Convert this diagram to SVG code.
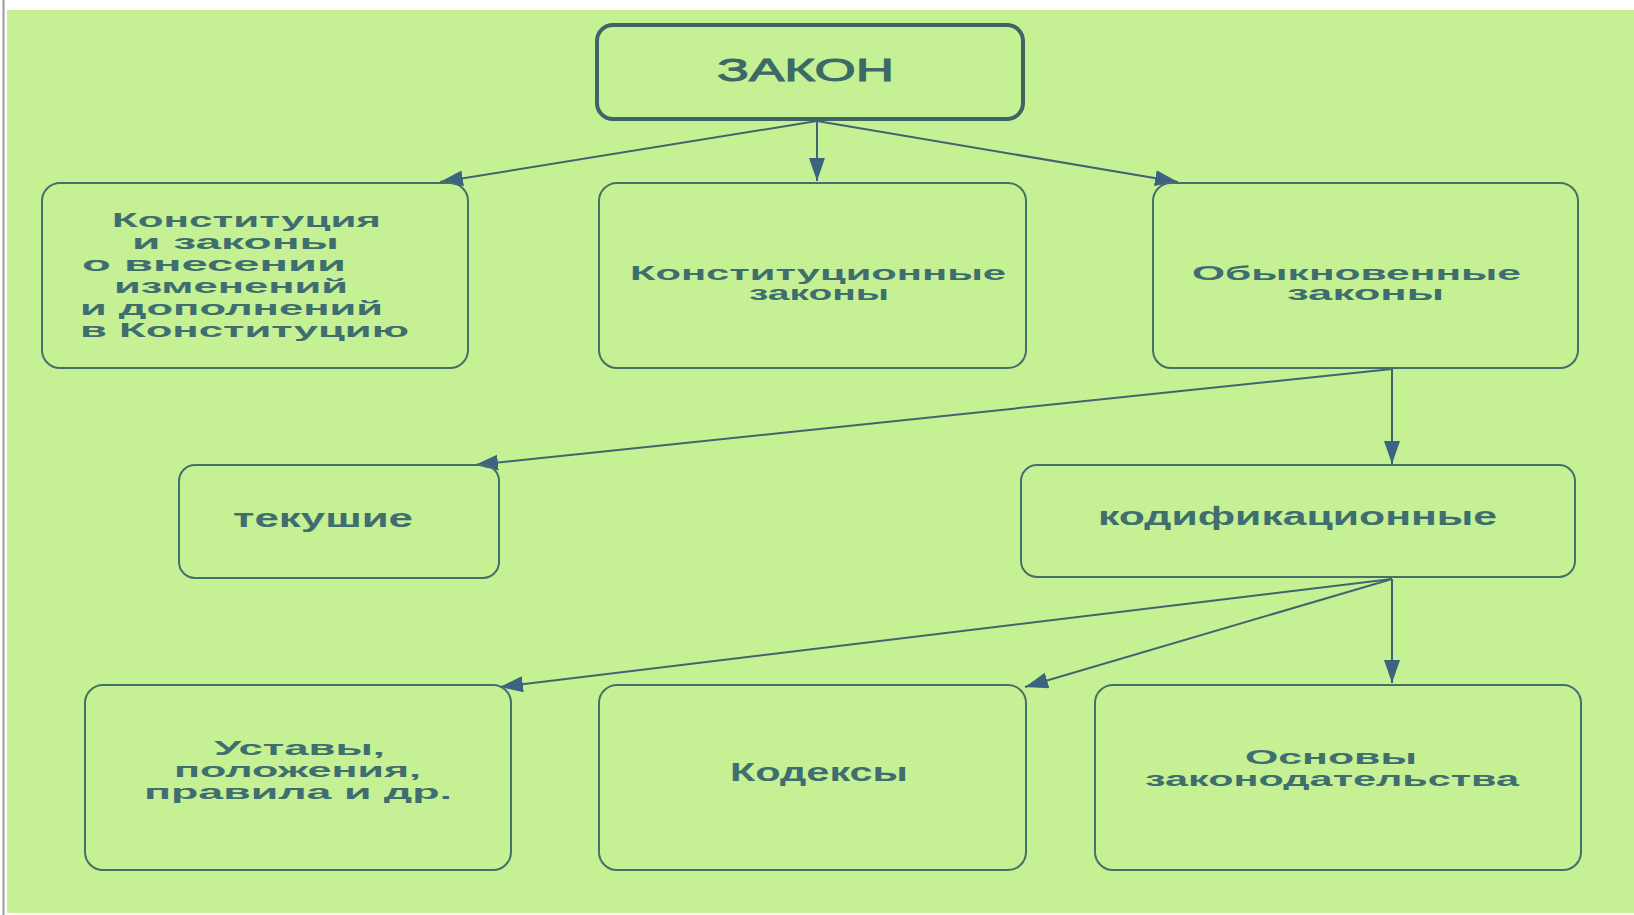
<svg xmlns="http://www.w3.org/2000/svg" width="1634" height="915" viewBox="0 0 1634 915">
<style>
.bg{fill:#c6f094}
.box{fill:none;stroke:#44706c;stroke-width:2}
.main{fill:none;stroke:#3e6468;stroke-width:4}
.t{font-family:"Liberation Sans","DejaVu Sans",sans-serif;font-weight:bold;font-size:25px;fill:#3f6e70}
.m{font-family:"Liberation Sans","DejaVu Sans",sans-serif;font-weight:bold;font-size:21px;fill:#3f6e70}
.title{font-family:"Liberation Sans","DejaVu Sans",sans-serif;font-size:32px;fill:#3c6a66;stroke:#3c6a66;stroke-width:1}
.c{fill:none;stroke:#3f6670;stroke-width:2}
</style>
<defs>
<marker id="ah" markerUnits="userSpaceOnUse" markerWidth="26" markerHeight="18" refX="23" refY="8" orient="auto">
<path d="M0,0 L23,8 L0,16 Z" fill="#3b6480"/>
</marker>
</defs>
<rect x="0" y="0" width="1634" height="915" fill="#ffffff"/>
<rect class="bg" x="7" y="10" width="1627" height="903"/>
<line x1="3.5" y1="0" x2="3.5" y2="915" stroke="#9a9a9a" stroke-width="2"/>

<g id="connectors">
<line class="c" x1="817" y1="121" x2="440" y2="182" marker-end="url(#ah)"/>
<line class="c" x1="817" y1="121" x2="817" y2="181" marker-end="url(#ah)"/>
<line class="c" x1="817" y1="121" x2="1178" y2="182" marker-end="url(#ah)"/>
<line class="c" x1="1392" y1="369" x2="1392" y2="464" marker-end="url(#ah)"/>
<line class="c" x1="1392" y1="369" x2="475" y2="465" marker-end="url(#ah)"/>
<line class="c" x1="1392" y1="579" x2="500" y2="687" marker-end="url(#ah)"/>
<line class="c" x1="1392" y1="579" x2="1025" y2="687" marker-end="url(#ah)"/>
<line class="c" x1="1392" y1="579" x2="1392" y2="683" marker-end="url(#ah)"/>
</g>

<g id="zakon">
<rect class="main" x="597" y="25" width="426" height="94" rx="16"/>
<text class="title" x="717" y="81" textLength="177" lengthAdjust="spacingAndGlyphs">ЗАКОН</text>
</g>

<g id="konstitutsiya">
<rect class="box" x="42" y="183" width="426" height="185" rx="18"/>
<text class="m" x="112" y="227" textLength="269" lengthAdjust="spacingAndGlyphs">Конституция</text>
<text class="m" x="132" y="249" textLength="207" lengthAdjust="spacingAndGlyphs">и законы</text>
<text class="m" x="82" y="271" textLength="264" lengthAdjust="spacingAndGlyphs">о внесении</text>
<text class="m" x="114" y="293" textLength="234" lengthAdjust="spacingAndGlyphs">изменений</text>
<text class="m" x="80" y="315" textLength="303" lengthAdjust="spacingAndGlyphs">и дополнений</text>
<text class="m" x="80" y="337" textLength="329" lengthAdjust="spacingAndGlyphs">в Конституцию</text>
</g>

<g id="konstitutsionnye">
<rect class="box" x="599" y="183" width="427" height="185" rx="18"/>
<text class="m" x="630" y="280" textLength="376" lengthAdjust="spacingAndGlyphs">Конституционные</text>
<text class="m" x="749" y="300" textLength="140" lengthAdjust="spacingAndGlyphs">законы</text>
</g>

<g id="obyknovennye">
<rect class="box" x="1153" y="183" width="425" height="185" rx="18"/>
<text class="m" x="1192" y="280" textLength="329" lengthAdjust="spacingAndGlyphs">Обыкновенные</text>
<text class="m" x="1287" y="300" textLength="157" lengthAdjust="spacingAndGlyphs">законы</text>
</g>

<g id="tekushie">
<rect class="box" x="179" y="465" width="320" height="113" rx="16"/>
<text class="t" x="233" y="527" textLength="180" lengthAdjust="spacingAndGlyphs">текушие</text>
</g>

<g id="kodifikatsionnye">
<rect class="box" x="1021" y="465" width="554" height="112" rx="16"/>
<text class="t" x="1098" y="525" textLength="399" lengthAdjust="spacingAndGlyphs">кодификационные</text>
</g>

<g id="ustavy">
<rect class="box" x="85" y="685" width="426" height="185" rx="18"/>
<text class="m" x="214" y="755" textLength="171" lengthAdjust="spacingAndGlyphs">Уставы,</text>
<text class="m" x="174" y="777" textLength="247" lengthAdjust="spacingAndGlyphs">положения,</text>
<text class="m" x="144" y="799" textLength="308" lengthAdjust="spacingAndGlyphs">правила и др.</text>
</g>

<g id="kodeksy">
<rect class="box" x="599" y="685" width="427" height="185" rx="18"/>
<text class="t" x="730" y="781" textLength="178" lengthAdjust="spacingAndGlyphs">Кодексы</text>
</g>

<g id="osnovy">
<rect class="box" x="1095" y="685" width="486" height="185" rx="18"/>
<text class="m" x="1245" y="764" textLength="172" lengthAdjust="spacingAndGlyphs">Основы</text>
<text class="m" x="1145" y="786" textLength="374" lengthAdjust="spacingAndGlyphs">законодательства</text>
</g>
</svg>
